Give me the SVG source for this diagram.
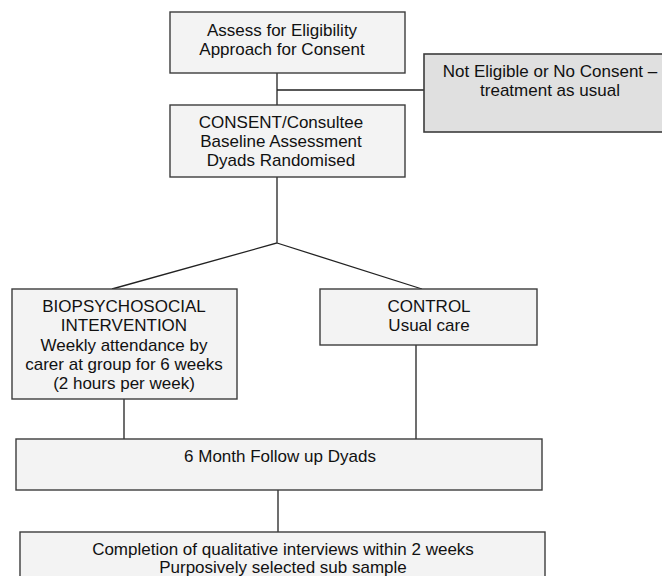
<svg xmlns="http://www.w3.org/2000/svg" width="662" height="576" viewBox="0 0 662 576">
<style>
.box{fill:#f3f3f3;stroke:#3c3c3c;stroke-width:1.4}
.grey{fill:#e0e0e0;stroke:#3c3c3c;stroke-width:1.6}
.t{font-family:"Liberation Sans",Arial,sans-serif;font-size:17px;fill:#111;text-anchor:middle}
.c{fill:none;stroke:#222;stroke-width:1.3}
</style>
<rect width="662" height="576" fill="#fff"/>
<g id="connectors">
<path class="c" d="M277,73V105M277,90H424M277,177V243L112,289M277,243L422,289M124,399V439M416,345V439M278,490V532"/>
</g>
<g id="assess">
<rect class="box" x="170" y="12" width="235" height="61"/>
<text class="t" x="282" y="36">Assess for Eligibility</text>
<text class="t" x="282" y="55">Approach for Consent</text>
</g>
<g id="not-eligible">
<rect class="grey" x="424" y="54" width="252" height="78"/>
<text class="t" x="550" y="77">Not Eligible or No Consent –</text>
<text class="t" x="550" y="96">treatment as usual</text>
</g>
<g id="consent">
<rect class="box" x="170" y="105" width="235" height="72"/>
<text class="t" x="281" y="128">CONSENT/Consultee</text>
<text class="t" x="281" y="147">Baseline Assessment</text>
<text class="t" x="281" y="166">Dyads Randomised</text>
</g>
<g id="intervention">
<rect class="box" x="12" y="289" width="225" height="110"/>
<text class="t" x="124" y="312">BIOPSYCHOSOCIAL</text>
<text class="t" x="124" y="331">INTERVENTION</text>
<text class="t" x="124" y="351">Weekly attendance by</text>
<text class="t" x="124" y="370">carer at group for 6 weeks</text>
<text class="t" x="124" y="389">(2 hours per week)</text>
</g>
<g id="control">
<rect class="box" x="320" y="289" width="217" height="56"/>
<text class="t" x="429" y="312">CONTROL</text>
<text class="t" x="429" y="331">Usual care</text>
</g>
<g id="followup">
<rect class="box" x="16" y="439" width="526" height="51"/>
<text class="t" x="280" y="462">6 Month Follow up Dyads</text>
</g>
<g id="qualitative">
<rect class="box" x="20" y="532" width="525" height="60"/>
<text class="t" x="283" y="555">Completion of qualitative interviews within 2 weeks</text>
<text class="t" x="283" y="573">Purposively selected sub sample</text>
</g>
</svg>
